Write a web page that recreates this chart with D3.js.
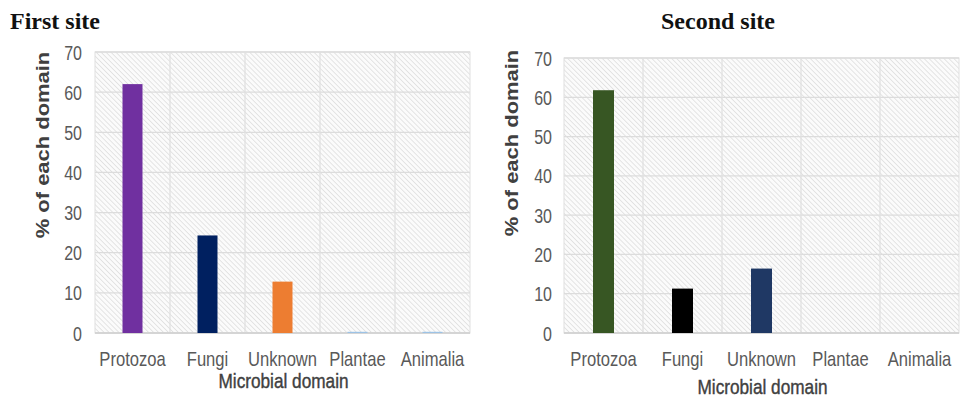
<!DOCTYPE html>
<html><head><meta charset="utf-8">
<script src="https://cdn.jsdelivr.net/npm/d3@7"></script>
<style>
html,body{margin:0;padding:0;background:#fff;}
svg{display:block;}
</style></head>
<body>
<svg id="chart" width="962" height="397"></svg>
<script>
const categories = ["Protozoa","Fungi","Unknown","Plantae","Animalia"];
const site1Values = [62, 24.3, 12.8, 0.3, 0.3];
const site2Values = [61.8, 11.3, 16.4, 0, 0];
const site1Colors = ["#7030A0","#002060","#ED7D31","#9DC3E6","#9DC3E6"];
const site2Colors = ["#375623","#000000","#1F3864","#9DC3E6","#9DC3E6"];
const yTicks = [0,10,20,30,40,50,60,70];
const titles = ["First site","Second site"];
const xTitle = "Microbial domain";
const yTitle = "% of each domain";

const svg = d3.select("#chart");
const defs = svg.append("defs");
const pat = defs.append("pattern").attr("id","hatch").attr("patternUnits","userSpaceOnUse")
  .attr("width",3.5).attr("height",3.5).attr("patternTransform","rotate(45)");
pat.append("rect").attr("width",3.5).attr("height",3.5).attr("fill","#fbfbfb");
pat.append("line").attr("x1",0).attr("y1",0).attr("x2",3.5).attr("y2",0)
  .attr("stroke","#d9d9d9").attr("stroke-width",1.3);

const sans = "'Liberation Sans',Arial,sans-serif";

const panels = [
  {values:site1Values, colors:site1Colors, title:titles[0], x0:95, x1:470, yTop:52, yBot:333,
   titleX:10, titleAnchor:"start", titleY:29, yTitleX:49, yTitleY:145, tickX:82, xTitleY:388, barW:20},
  {values:site2Values, colors:site2Colors, title:titles[1], x0:564, x1:959, yTop:58, yBot:333,
   titleX:718, titleAnchor:"middle", titleY:29, yTitleX:518, yTitleY:143, tickX:552, xTitleY:394, barW:21}
];

panels.forEach(p => {
  const g = svg.append("g");
  const x = d3.scaleBand().domain(categories).range([p.x0,p.x1]);
  const y = d3.scaleLinear().domain([0,70]).range([p.yBot,p.yTop]);
  g.append("rect").attr("x",p.x0).attr("y",p.yTop).attr("width",p.x1-p.x0).attr("height",p.yBot-p.yTop)
    .attr("fill","url(#hatch)").attr("stroke","#e0e0e0");
  g.selectAll(".hg").data(yTicks).enter().append("line")
    .attr("x1",p.x0).attr("x2",p.x1).attr("y1",d=>y(d)).attr("y2",d=>y(d))
    .attr("stroke","#dcdcdc").attr("stroke-width",1.3);
  g.selectAll(".vg").data(categories.slice(1)).enter().append("line")
    .attr("x1",d=>x(d)).attr("x2",d=>x(d)).attr("y1",p.yTop).attr("y2",p.yBot)
    .attr("stroke","#e0e0e0").attr("stroke-width",1.3);
  g.append("line").attr("x1",p.x0).attr("x2",p.x1).attr("y1",y(0)).attr("y2",y(0))
    .attr("stroke","#d0d0d0").attr("stroke-width",1.3);
  g.selectAll(".bar").data(p.values).enter().append("rect")
    .attr("x",(d,i)=>x(categories[i])+x.bandwidth()/2-p.barW/2)
    .attr("width",p.barW)
    .attr("y",d=>y(d)).attr("height",d=>y(0)-y(d))
    .attr("fill",(d,i)=>p.colors[i]);
  // y axis
  const ya = d3.axisLeft(y).tickValues(yTicks).tickSize(0).tickPadding(0);
  const yg = g.append("g").attr("transform",`translate(${p.tickX},0)`).call(ya);
  yg.select(".domain").remove();
  yg.selectAll("text").attr("x",0).attr("font-family",sans).attr("font-size",20).attr("fill","#595959")
    .attr("dy","0.35em").attr("transform","scale(0.8,1)");
  // x axis
  const xa = d3.axisBottom(x).tickSize(0).tickPadding(0);
  const xg = g.append("g").attr("transform",`translate(0,${p.yBot+33})`).call(xa);
  xg.select(".domain").remove();
  xg.selectAll("text").attr("y",0).attr("dy",0).attr("font-family",sans).attr("font-size",20).attr("fill","#595959")
    .attr("transform","scale(0.83,1)");
  // x title
  g.append("text").attr("transform",`translate(${(p.x0+p.x1)/2+1},${p.xTitleY}) scale(0.82,1)`)
    .attr("text-anchor","middle")
    .attr("font-family",sans).attr("font-size",21).attr("fill","#404040")
    .attr("stroke","#404040").attr("stroke-width",0.4).text(xTitle);
  // y title
  g.append("text").attr("transform",`translate(${p.yTitleX},${p.yTitleY}) rotate(-90) scale(1.22,1)`)
    .attr("text-anchor","middle").attr("font-family",sans)
    .attr("font-size",18).attr("font-weight","bold").attr("fill","#404040").text(yTitle);
  // chart title
  svg.append("text").attr("x",p.titleX).attr("y",p.titleY).attr("text-anchor",p.titleAnchor)
    .attr("font-family","'Liberation Serif','Times New Roman',serif").attr("font-size",24)
    .attr("font-weight","bold").attr("fill","#111").text(p.title);
});
</script>
</body></html>
